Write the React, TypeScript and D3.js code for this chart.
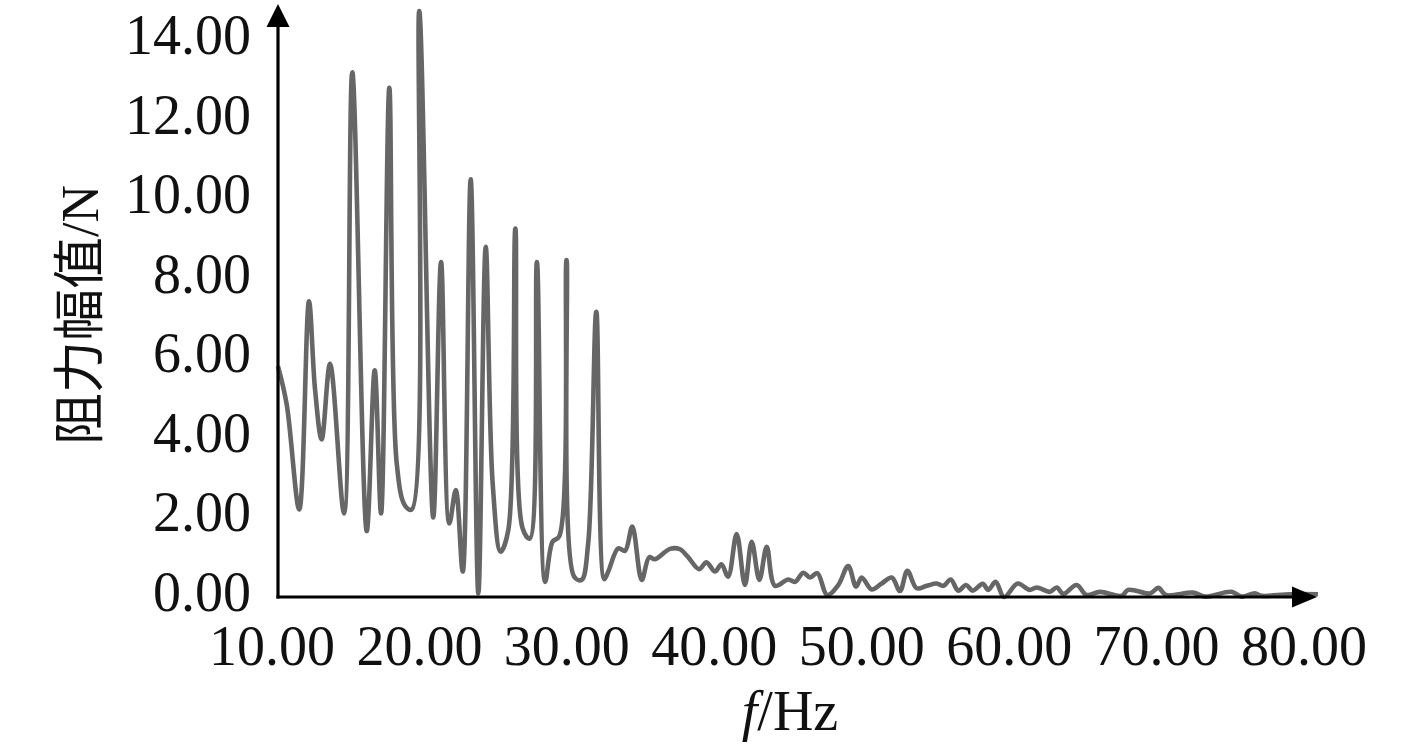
import React from "react";
import * as d3 from "d3";

const freq: number[] = [
  10.0, 10.59, 11.44, 12.1, 12.51, 12.96, 13.53, 14.48, 15.04, 16.02, 16.56, 16.99, 17.55, 18.05, 18.61, 19.07,
  19.58, 20.53, 21.06, 21.62, 22.06, 22.53, 23.07, 23.59, 24.09, 24.56, 25.1, 25.62, 26.1, 26.59, 27.08, 27.56,
  28.12, 28.62, 29.07, 29.57, 30.09, 30.59, 31.04, 31.59, 32.13, 32.4, 33.08, 33.54, 34.03, 34.67, 35.18, 35.57,
  36.59, 37.27, 37.82, 38.56, 39.06, 39.64, 40.08, 40.53, 41.11, 41.67, 42.13, 42.65, 43.15, 43.71, 44.61, 45.07,
  45.63, 46.09, 46.58, 47.26, 48.0, 48.68, 49.21, 49.59, 50.27, 50.95, 51.63, 52.19, 52.69, 53.32, 54.0, 54.68,
  55.13, 55.63, 56.14, 56.67, 57.12, 57.8, 58.18, 58.68, 59.25, 60.17, 60.96, 61.46, 62.36, 62.82, 63.27, 64.17,
  64.85, 65.75, 67.22, 67.67, 69.15, 69.71, 70.23, 72.08, 72.88, 74.68, 75.36, 76.26, 76.72, 78.64, 80.54,
];

const amplitude: number[] = [
  5.8, 4.84, 2.2, 7.43, 5.23, 3.96, 5.86, 2.1, 13.19, 1.66, 5.7, 2.1, 12.8, 3.37, 2.3, 2.2,
  14.73, 2.0, 8.42, 1.85, 2.69, 0.64, 10.5, 0.09, 8.8, 2.86, 1.14, 1.68, 9.26, 1.73, 1.47, 8.42,
  0.38, 1.39, 1.52, 8.47, 0.51, 0.43, 1.35, 7.17, 0.45, 0.64, 1.22, 1.16, 1.77, 0.43, 1.0, 0.95,
  1.21, 1.2, 1.0, 0.7, 0.87, 0.64, 0.82, 0.51, 1.58, 0.3, 1.39, 0.43, 1.26, 0.28, 0.44, 0.38,
  0.61, 0.49, 0.6, 0.05, 0.3, 0.78, 0.26, 0.49, 0.19, 0.34, 0.49, 0.15, 0.66, 0.22, 0.28, 0.34,
  0.28, 0.44, 0.16, 0.3, 0.16, 0.33, 0.18, 0.38, 0.0, 0.34, 0.18, 0.24, 0.13, 0.24, 0.08, 0.3,
  0.05, 0.13, 0.03, 0.18, 0.09, 0.23, 0.05, 0.11, 0.01, 0.13, 0.01, 0.09, 0.03, 0.07, 0.07,
];

const xTicks: number[] = [10, 20, 30, 40, 50, 60, 70, 80];
const yTicks: number[] = [0, 2, 4, 6, 8, 10, 12, 14];
const xTitleItalic = "f";
const xTitleRest = "/Hz";
const yTitle = "阻力幅值/N";

export default function App() {
  const W = 1417;
  const H = 744;
  const x = d3.scaleLinear().domain([10, 80]).range([278, 1310]);
  const y = d3.scaleLinear().domain([0, 14]).range([597, 40]);
  const pts: [number, number][] = freq.map((f, i) => [f, amplitude[i]]);
  const line = d3
    .line<[number, number]>()
    .x((d) => x(d[0]))
    .y((d) => y(d[1]))
    .curve(d3.curveCatmullRom.alpha(0.5));
  const x0 = x(10);
  const y0 = y(0);
  const font = "'Liberation Serif', 'Times New Roman', serif";
  return (
    <svg
      width={W}
      height={H}
      style={{ position: "absolute", left: 0, top: 0, background: "#fff" }}
    >
      <rect x={0} y={0} width={W} height={H} fill="#fff" />
      <path d={line(pts) || ""} fill="none" stroke="#666666" strokeWidth={4.6} strokeLinejoin="round" />
      <line x1={x0} y1={y0 + 1.5} x2={x0} y2={20} stroke="#000" strokeWidth={3.2} />
      <path d={`M${x0},4 L${x0 - 11.5},27 L${x0 + 11.5},27 Z`} fill="#000" />
      <line x1={x0 - 1.5} y1={y0} x2={1300} y2={y0} stroke="#000" strokeWidth={3.2} />
      <path d={`M1317,${y0} L1292,${y0 - 10.5} L1292,${y0 + 10.5} Z`} fill="#000" />
      {yTicks.map((t) => (
        <text
          key={"y" + t}
          x={251}
          y={y(t) + 14}
          textAnchor="end"
          fontFamily={font}
          fontSize={56}
          fill="#111"
        >
          {t.toFixed(2)}
        </text>
      ))}
      {xTicks.map((t) => (
        <text
          key={"x" + t}
          x={x(t) - 6}
          y={665}
          textAnchor="middle"
          fontFamily={font}
          fontSize={56}
          fill="#111"
        >
          {t.toFixed(2)}
        </text>
      ))}
      <text x={790} y={730} textAnchor="middle" fontFamily={font} fontSize={56} fill="#111">
        <tspan fontStyle="italic">{xTitleItalic}</tspan>
        <tspan>{xTitleRest}</tspan>
      </text>
      <text
        transform="translate(98,315) rotate(-90)"
        textAnchor="middle"
        fontFamily={"'Liberation Serif', 'Noto Sans CJK SC', serif"}
        fontSize={52}
        fill="#111"
      >
        {yTitle}
      </text>
    </svg>
  );
}
